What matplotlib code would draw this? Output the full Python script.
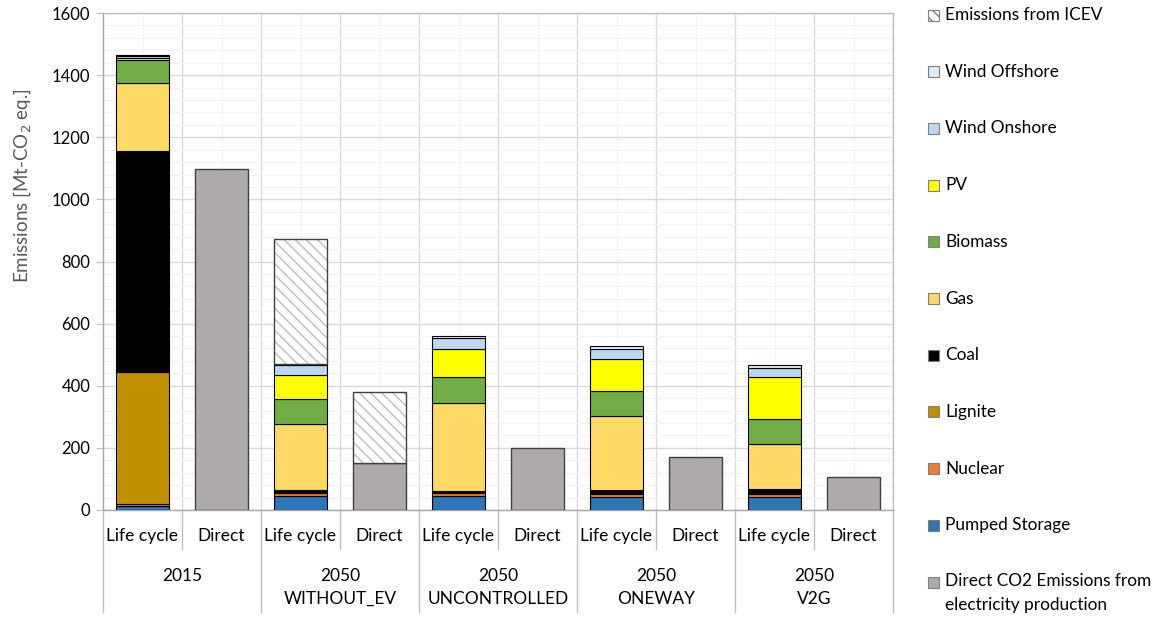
import numpy as np
import matplotlib.pyplot as plt
from matplotlib.patches import Rectangle
from matplotlib.transforms import blended_transform_factory

plt.rcParams['font.family'] = ['Lato', 'DejaVu Sans']

# scenarios (top line / bottom line of the group label)
groups = ['2015', '2050', '2050', '2050', '2050']
group_sub = ['', 'WITHOUT_EV', 'UNCONTROLLED', 'ONEWAY', 'V2G']
bar_kinds = ['Life cycle', 'Direct']

# life cycle emissions by source, Mt-CO2 eq.
pumped = [12, 46, 45, 43, 43]
nuclear = [8, 9, 10, 10, 8]
lignite = [425, 1, 1, 1, 1]
coal = [710, 8, 5, 10, 16]
gas = [219, 213, 282, 239, 143]
biomass = [74, 79, 84, 80, 81]
pv = [8, 77, 90, 102, 135]
wind_on = [5, 33, 36, 34, 31]
wind_off = [4, 3, 7, 8, 8]
icev_lc = [0, 403, 0, 0, 0]

# direct emissions
direct = [1098, 150, 198, 171, 107]
icev_direct = [0, 231, 0, 0, 0]

sources = [
    ('Pumped Storage', pumped, '#2E75B6'),
    ('Nuclear', nuclear, '#ED7D31'),
    ('Lignite', lignite, '#BF9000'),
    ('Coal', coal, '#000000'),
    ('Gas', gas, '#FFD966'),
    ('Biomass', biomass, '#70AD47'),
    ('PV', pv, '#FFFF00'),
    ('Wind Onshore', wind_on, '#BDD7EE'),
    ('Wind Offshore', wind_off, '#DDEBF7'),
]
direct_color = '#AEAAAA'
hatch_color = '#BFBFBF'

fig = plt.figure(figsize=(11.58, 6.18), dpi=100)
ax = fig.add_axes([103 / 1158, 1 - 510 / 618, 790 / 1158, 497 / 618])

n = len(groups)
x_lc = np.arange(n) * 2
x_dir = x_lc + 1
w = 0.67

# stacked life cycle bars
bottom = np.zeros(n)
for name, vals, col in sources:
    vals = np.array(vals, dtype=float)
    ax.bar(x_lc, vals, w, bottom=bottom, color=col, edgecolor='black', linewidth=0.8, zorder=3)
    bottom += vals


def hatched(x, vals, base):
    vals = np.array(vals, dtype=float)
    m = vals > 0
    ax.bar(x[m], vals[m], w, bottom=base[m], color='white', edgecolor=hatch_color,
           hatch='\\\\\\', linewidth=0, zorder=3)
    ax.bar(x[m], vals[m], w, bottom=base[m], fill=False, edgecolor='#404040',
           linewidth=1.0, zorder=4)


hatched(x_lc, icev_lc, bottom)

# direct bars
direct_arr = np.array(direct, dtype=float)
ax.bar(x_dir, direct_arr, w, color=direct_color, edgecolor='#404040', linewidth=1.0, zorder=3)
hatched(x_dir, icev_direct, direct_arr)

# axes, grid
ax.set_xlim(-0.5, 2 * n - 0.5)
ax.set_ylim(0, 1600)
ax.set_yticks(np.arange(0, 1601, 200))
ax.set_yticks(np.arange(0, 1601, 40), minor=True)
ax.set_xticks(np.arange(2 * n) + 0.5, minor=False)
ax.set_xticks(np.arange(2 * n), minor=True)
ax.grid(True, which='major', color='#D9D9D9', linewidth=1.0, zorder=0)
ax.grid(True, which='minor', color='#F2F2F2', linewidth=0.8, zorder=0)
ax.set_axisbelow(True)
ax.tick_params(axis='y', which='major', length=5, color='#BFBFBF', labelsize=12, pad=4)
ax.tick_params(axis='y', which='minor', length=0)
ax.tick_params(axis='x', which='both', length=0, labelbottom=False)
for s in ax.spines.values():
    s.set_color('#BFBFBF')
    s.set_linewidth(1.0)
ax.spines['left'].set_color('#A6A6A6')
ax.spines['bottom'].set_color('#A6A6A6')

ax.set_ylabel('Emissions [Mt-CO$_2$ eq.]', fontsize=13.5, color='#595959')
ax.yaxis.set_label_coords(-0.088, 0.652)

# two-level category axis
tr = blended_transform_factory(ax.transData, ax.transAxes)
for i in range(n):
    ax.text(x_lc[i], -0.052, bar_kinds[0], transform=tr, ha='center', va='center', fontsize=12.5)
    ax.text(x_dir[i], -0.052, bar_kinds[1], transform=tr, ha='center', va='center', fontsize=12.5)
    gx = x_lc[i] + 0.5
    ax.text(gx, -0.133, groups[i], transform=tr, ha='center', va='center', fontsize=12.5)
    if group_sub[i]:
        ax.text(gx, -0.179, group_sub[i], transform=tr, ha='center', va='center', fontsize=12.5)
    # short divider between the two bars of a group
    ax.plot([x_lc[i] + 0.5] * 2, [0, -0.079], transform=tr, color='#BFBFBF', lw=1.0, clip_on=False)
for b in np.arange(n + 1) * 2 - 0.5:
    ax.plot([b, b], [0, -0.205], transform=tr, color='#BFBFBF', lw=1.0, clip_on=False)

# legend on the right
leg_items = [('Emissions from ICEV', 'hatch')] + [(nm, c) for nm, _, c in sources[::-1]] + \
    [('Direct CO2 Emissions from\nelectricity production', direct_color)]
y0, dy = 15, 56.7
for k, (label, col) in enumerate(leg_items):
    yc = y0 + k * dy
    yf = 1 - yc / 618
    if col == 'hatch':
        r = Rectangle((928 / 1158, yf - 5.5 / 618), 11 / 1158, 11 / 618, transform=fig.transFigure,
                      facecolor='white', edgecolor='#7F7F7F', hatch='\\\\\\', linewidth=0.8)
    else:
        r = Rectangle((928 / 1158, yf - 5.5 / 618), 11 / 1158, 11 / 618, transform=fig.transFigure,
                      facecolor=col, edgecolor='#7F7F7F', linewidth=0.8)
    fig.patches.append(r)
    if '\n' in label:
        fig.text(945 / 1158, yf + 9 / 618, label, ha='left', va='top', fontsize=12.4, linespacing=1.6)
    else:
        fig.text(945 / 1158, yf, label, ha='left', va='center', fontsize=12.4)

fig.savefig('out.png', dpi=100)
